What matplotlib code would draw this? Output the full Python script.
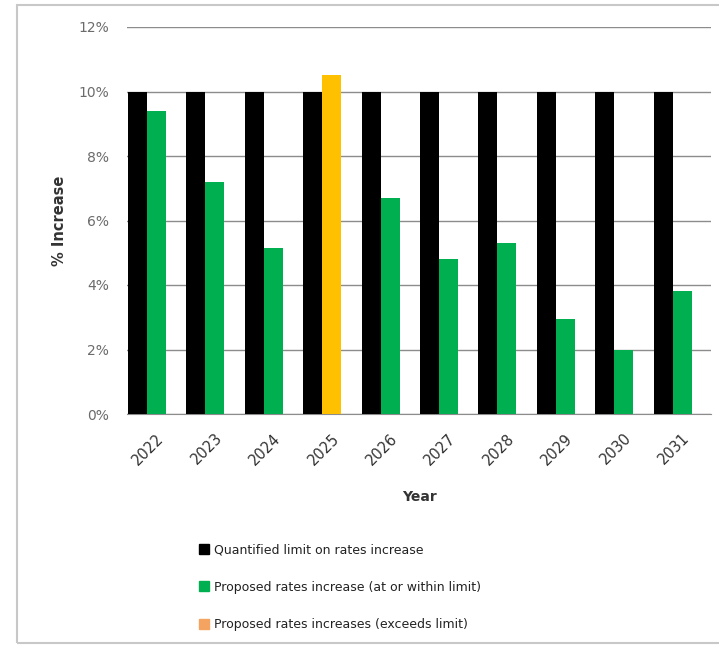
import matplotlib
matplotlib.use("Agg")
import matplotlib.pyplot as plt
from matplotlib.patches import Rectangle
from matplotlib.lines import Line2D
import numpy as np

years = ["2022", "2023", "2024", "2025", "2026", "2027", "2028", "2029", "2030", "2031"]
limit = [10, 10, 10, 10, 10, 10, 10, 10, 10, 10]
proposed = [9.4, 7.2, 5.15, 10.5, 6.7, 4.8, 5.3, 2.95, 2.0, 3.8]
exceeds = [False, False, False, True, False, False, False, False, False, False]
yticks = [0, 2, 4, 6, 8, 10, 12]

BLACK = "#000000"
GREEN = "#00b050"
ORANGE = "#ffc000"
LEGEND_ORANGE = "#f4a460"
TEXT = "#6b6b6b"

plt.rcParams["font.family"] = ["DejaVu Sans"]

W, H = 719, 649
fig = plt.figure(figsize=(W / 100, H / 100), dpi=100)

# outer chart frame
fig.patches.append(Rectangle((17 / W, (H - 643) / H), 1 - 17 / W + 0.01, (643 - 5) / H,
                             transform=fig.transFigure, fill=False,
                             edgecolor="#c8c8c8", linewidth=1.5))

ax = fig.add_axes([127 / W, (H - 414) / H, (711 - 127) / W, (414 - 27) / H])

x = np.arange(len(years))
bw = 0.325
off = 0.017
ax.bar(x + off, limit, width=bw, align="edge", color=BLACK, zorder=3)
colors = [ORANGE if e else GREEN for e in exceeds]
ax.bar(x + off + bw, proposed, width=bw, align="edge", color=colors, zorder=3)

ax.set_xlim(0, len(years))
ax.set_ylim(0, 12)
ax.set_yticks(yticks)
ax.set_yticklabels([f"{v}%" for v in yticks], color=TEXT, fontsize=10)
ax.yaxis.grid(True, color="#8c8c8c", linewidth=1.0, zorder=0)
ax.set_xticks(x + 0.5)
ax.set_xticklabels(years, rotation=45, ha="right", rotation_mode="anchor",
                   fontsize=10.5, color="#333333")
ax.tick_params(axis="both", length=0)
ax.tick_params(axis="y", pad=13)
ax.tick_params(axis="x", pad=12)
for side in ["top", "right", "left"]:
    ax.spines[side].set_visible(False)
ax.spines["bottom"].set_color("#8c8c8c")

ax.set_ylabel("% Increase", fontsize=10.5, fontweight="bold", color="#333333", labelpad=8)
ax.set_xlabel("Year", fontsize=10, fontweight="bold", color="#333333", labelpad=16)

handles = [
    Line2D([], [], marker="s", linestyle="none", markersize=7, color=BLACK),
    Line2D([], [], marker="s", linestyle="none", markersize=7, color=GREEN),
    Line2D([], [], marker="s", linestyle="none", markersize=7, color=LEGEND_ORANGE),
]
labels = [
    "Quantified limit on rates increase",
    "Proposed rates increase (at or within limit)",
    "Proposed rates increases (exceeds limit)",
]
fig.legend(handles, labels, loc="upper left", bbox_to_anchor=(186 / W, (H - 532) / H),
           frameon=False, fontsize=9, handletextpad=0.3, labelspacing=1.95,
           handlelength=1.0, labelcolor="#222222")

fig.savefig("out.png", dpi=100, facecolor="white")
